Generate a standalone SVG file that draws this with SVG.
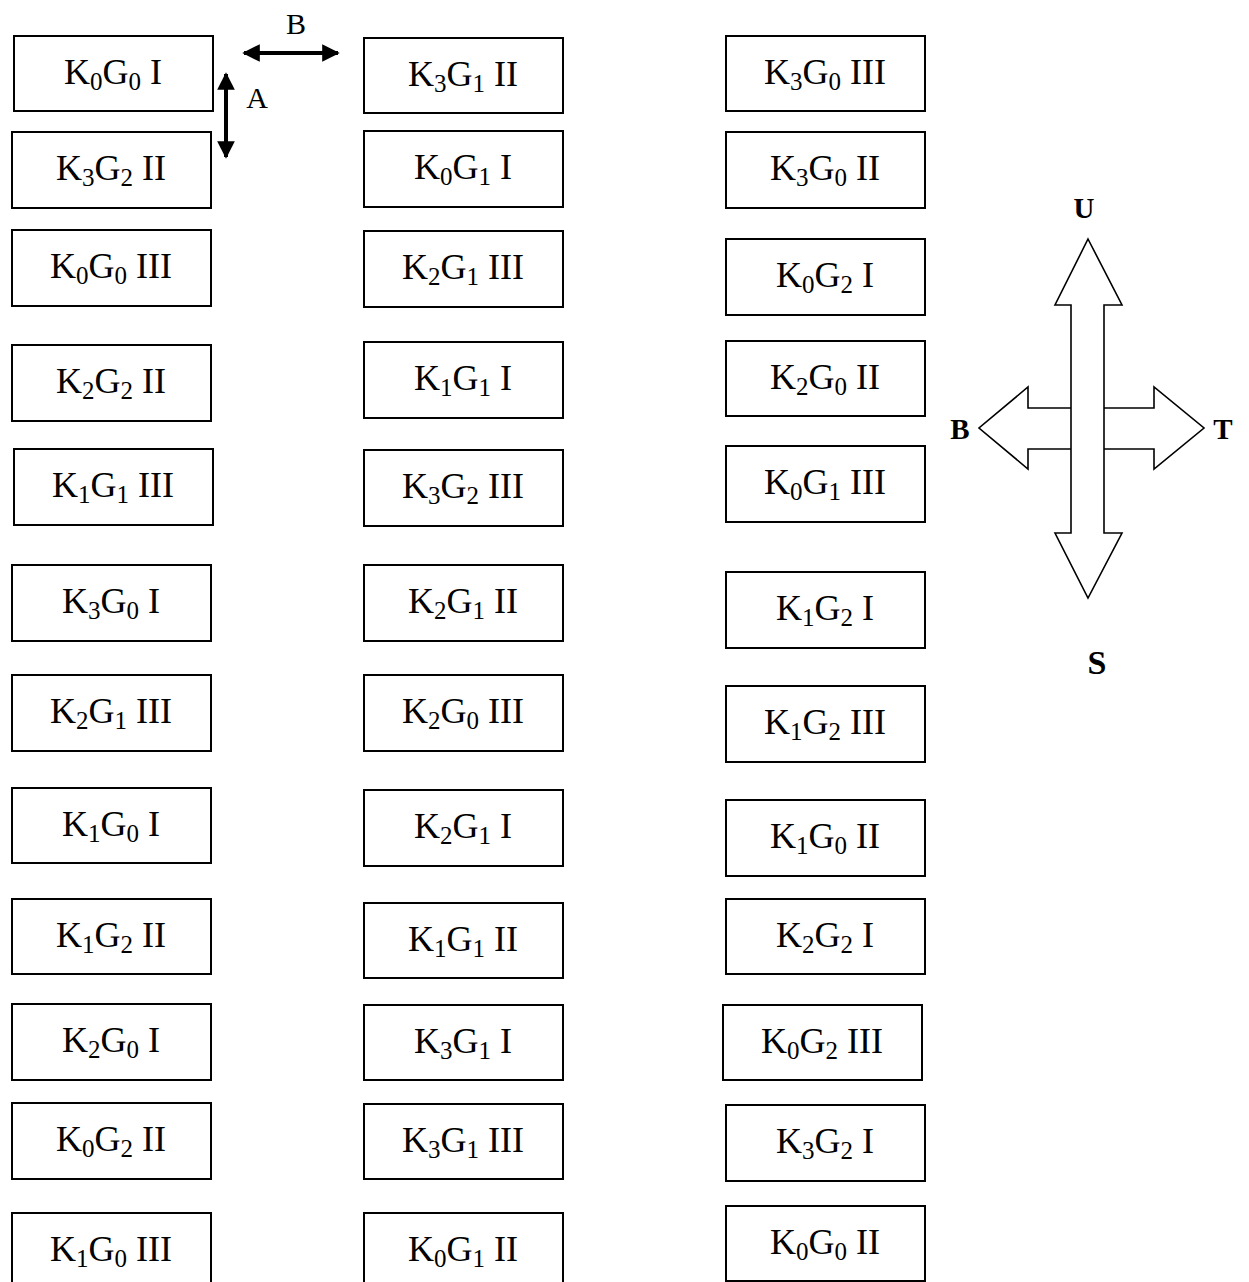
<svg xmlns="http://www.w3.org/2000/svg" width="1249" height="1282" viewBox="0 0 1249 1282">
<style>
.box{fill:#fff;stroke:#000;stroke-width:2}
.t{font-family:"Liberation Serif","Times New Roman",serif;font-size:36px;fill:#000;text-anchor:middle}
.s{font-size:25px}
.lbl{font-family:"Liberation Serif","Times New Roman",serif;font-size:30px;fill:#000;text-anchor:middle}
.cl{font-family:"Liberation Serif","Times New Roman",serif;font-weight:bold;font-size:29px;fill:#000;text-anchor:middle}
.ca{fill:#fff;stroke:#000;stroke-width:1.6;stroke-linejoin:miter}
</style>
<defs>
<marker id="ah" viewBox="0 0 10 10" refX="9" refY="5" markerWidth="4.8" markerHeight="4.4" orient="auto-start-reverse" markerUnits="strokeWidth">
<path d="M0,0 L10,5 L0,10 z" fill="#000"/>
</marker>
</defs>
<rect width="1249" height="1282" fill="#fff"/>

<g id="col1">
<g id="n_K0G0_I"><rect class="box" x="14" y="36" width="199" height="75"/><text class="t" x="113" y="84">K<tspan class="s" dy="6">0</tspan><tspan dy="-6">G</tspan><tspan class="s" dy="6">0</tspan><tspan dy="-6"> I</tspan></text></g>
<g id="n_K3G2_II"><rect class="box" x="12" y="132" width="199" height="76"/><text class="t" x="111" y="180">K<tspan class="s" dy="6">3</tspan><tspan dy="-6">G</tspan><tspan class="s" dy="6">2</tspan><tspan dy="-6"> II</tspan></text></g>
<g id="n_K0G0_III"><rect class="box" x="12" y="230" width="199" height="76"/><text class="t" x="111" y="278">K<tspan class="s" dy="6">0</tspan><tspan dy="-6">G</tspan><tspan class="s" dy="6">0</tspan><tspan dy="-6"> III</tspan></text></g>
<g id="n_K2G2_II"><rect class="box" x="12" y="345" width="199" height="76"/><text class="t" x="111" y="393">K<tspan class="s" dy="6">2</tspan><tspan dy="-6">G</tspan><tspan class="s" dy="6">2</tspan><tspan dy="-6"> II</tspan></text></g>
<g id="n_K1G1_III"><rect class="box" x="14" y="449" width="199" height="76"/><text class="t" x="113" y="497">K<tspan class="s" dy="6">1</tspan><tspan dy="-6">G</tspan><tspan class="s" dy="6">1</tspan><tspan dy="-6"> III</tspan></text></g>
<g id="n_K3G0_I"><rect class="box" x="12" y="565" width="199" height="76"/><text class="t" x="111" y="613">K<tspan class="s" dy="6">3</tspan><tspan dy="-6">G</tspan><tspan class="s" dy="6">0</tspan><tspan dy="-6"> I</tspan></text></g>
<g id="n_K2G1_III_a"><rect class="box" x="12" y="675" width="199" height="76"/><text class="t" x="111" y="723">K<tspan class="s" dy="6">2</tspan><tspan dy="-6">G</tspan><tspan class="s" dy="6">1</tspan><tspan dy="-6"> III</tspan></text></g>
<g id="n_K1G0_I"><rect class="box" x="12" y="788" width="199" height="75"/><text class="t" x="111" y="836">K<tspan class="s" dy="6">1</tspan><tspan dy="-6">G</tspan><tspan class="s" dy="6">0</tspan><tspan dy="-6"> I</tspan></text></g>
<g id="n_K1G2_II"><rect class="box" x="12" y="899" width="199" height="75"/><text class="t" x="111" y="947">K<tspan class="s" dy="6">1</tspan><tspan dy="-6">G</tspan><tspan class="s" dy="6">2</tspan><tspan dy="-6"> II</tspan></text></g>
<g id="n_K2G0_I"><rect class="box" x="12" y="1004" width="199" height="76"/><text class="t" x="111" y="1052">K<tspan class="s" dy="6">2</tspan><tspan dy="-6">G</tspan><tspan class="s" dy="6">0</tspan><tspan dy="-6"> I</tspan></text></g>
<g id="n_K0G2_II"><rect class="box" x="12" y="1103" width="199" height="76"/><text class="t" x="111" y="1151">K<tspan class="s" dy="6">0</tspan><tspan dy="-6">G</tspan><tspan class="s" dy="6">2</tspan><tspan dy="-6"> II</tspan></text></g>
<g id="n_K1G0_III"><rect class="box" x="12" y="1213" width="199" height="76"/><text class="t" x="111" y="1261">K<tspan class="s" dy="6">1</tspan><tspan dy="-6">G</tspan><tspan class="s" dy="6">0</tspan><tspan dy="-6"> III</tspan></text></g>
</g>

<g id="col2">
<g id="n_K3G1_II"><rect class="box" x="364" y="38" width="199" height="75"/><text class="t" x="463" y="86">K<tspan class="s" dy="6">3</tspan><tspan dy="-6">G</tspan><tspan class="s" dy="6">1</tspan><tspan dy="-6"> II</tspan></text></g>
<g id="n_K0G1_I"><rect class="box" x="364" y="131" width="199" height="76"/><text class="t" x="463" y="179">K<tspan class="s" dy="6">0</tspan><tspan dy="-6">G</tspan><tspan class="s" dy="6">1</tspan><tspan dy="-6"> I</tspan></text></g>
<g id="n_K2G1_III_b"><rect class="box" x="364" y="231" width="199" height="76"/><text class="t" x="463" y="279">K<tspan class="s" dy="6">2</tspan><tspan dy="-6">G</tspan><tspan class="s" dy="6">1</tspan><tspan dy="-6"> III</tspan></text></g>
<g id="n_K1G1_I"><rect class="box" x="364" y="342" width="199" height="76"/><text class="t" x="463" y="390">K<tspan class="s" dy="6">1</tspan><tspan dy="-6">G</tspan><tspan class="s" dy="6">1</tspan><tspan dy="-6"> I</tspan></text></g>
<g id="n_K3G2_III"><rect class="box" x="364" y="450" width="199" height="76"/><text class="t" x="463" y="498">K<tspan class="s" dy="6">3</tspan><tspan dy="-6">G</tspan><tspan class="s" dy="6">2</tspan><tspan dy="-6"> III</tspan></text></g>
<g id="n_K2G1_II"><rect class="box" x="364" y="565" width="199" height="76"/><text class="t" x="463" y="613">K<tspan class="s" dy="6">2</tspan><tspan dy="-6">G</tspan><tspan class="s" dy="6">1</tspan><tspan dy="-6"> II</tspan></text></g>
<g id="n_K2G0_III"><rect class="box" x="364" y="675" width="199" height="76"/><text class="t" x="463" y="723">K<tspan class="s" dy="6">2</tspan><tspan dy="-6">G</tspan><tspan class="s" dy="6">0</tspan><tspan dy="-6"> III</tspan></text></g>
<g id="n_K2G1_I"><rect class="box" x="364" y="790" width="199" height="76"/><text class="t" x="463" y="838">K<tspan class="s" dy="6">2</tspan><tspan dy="-6">G</tspan><tspan class="s" dy="6">1</tspan><tspan dy="-6"> I</tspan></text></g>
<g id="n_K1G1_II"><rect class="box" x="364" y="903" width="199" height="75"/><text class="t" x="463" y="951">K<tspan class="s" dy="6">1</tspan><tspan dy="-6">G</tspan><tspan class="s" dy="6">1</tspan><tspan dy="-6"> II</tspan></text></g>
<g id="n_K3G1_I"><rect class="box" x="364" y="1005" width="199" height="75"/><text class="t" x="463" y="1053">K<tspan class="s" dy="6">3</tspan><tspan dy="-6">G</tspan><tspan class="s" dy="6">1</tspan><tspan dy="-6"> I</tspan></text></g>
<g id="n_K3G1_III"><rect class="box" x="364" y="1104" width="199" height="75"/><text class="t" x="463" y="1152">K<tspan class="s" dy="6">3</tspan><tspan dy="-6">G</tspan><tspan class="s" dy="6">1</tspan><tspan dy="-6"> III</tspan></text></g>
<g id="n_K0G1_II"><rect class="box" x="364" y="1213" width="199" height="76"/><text class="t" x="463" y="1261">K<tspan class="s" dy="6">0</tspan><tspan dy="-6">G</tspan><tspan class="s" dy="6">1</tspan><tspan dy="-6"> II</tspan></text></g>
</g>

<g id="col3">
<g id="n_K3G0_III"><rect class="box" x="726" y="36" width="199" height="75"/><text class="t" x="825" y="84">K<tspan class="s" dy="6">3</tspan><tspan dy="-6">G</tspan><tspan class="s" dy="6">0</tspan><tspan dy="-6"> III</tspan></text></g>
<g id="n_K3G0_II"><rect class="box" x="726" y="132" width="199" height="76"/><text class="t" x="825" y="180">K<tspan class="s" dy="6">3</tspan><tspan dy="-6">G</tspan><tspan class="s" dy="6">0</tspan><tspan dy="-6"> II</tspan></text></g>
<g id="n_K0G2_I"><rect class="box" x="726" y="239" width="199" height="76"/><text class="t" x="825" y="287">K<tspan class="s" dy="6">0</tspan><tspan dy="-6">G</tspan><tspan class="s" dy="6">2</tspan><tspan dy="-6"> I</tspan></text></g>
<g id="n_K2G0_II"><rect class="box" x="726" y="341" width="199" height="75"/><text class="t" x="825" y="389">K<tspan class="s" dy="6">2</tspan><tspan dy="-6">G</tspan><tspan class="s" dy="6">0</tspan><tspan dy="-6"> II</tspan></text></g>
<g id="n_K0G1_III"><rect class="box" x="726" y="446" width="199" height="76"/><text class="t" x="825" y="494">K<tspan class="s" dy="6">0</tspan><tspan dy="-6">G</tspan><tspan class="s" dy="6">1</tspan><tspan dy="-6"> III</tspan></text></g>
<g id="n_K1G2_I"><rect class="box" x="726" y="572" width="199" height="76"/><text class="t" x="825" y="620">K<tspan class="s" dy="6">1</tspan><tspan dy="-6">G</tspan><tspan class="s" dy="6">2</tspan><tspan dy="-6"> I</tspan></text></g>
<g id="n_K1G2_III"><rect class="box" x="726" y="686" width="199" height="76"/><text class="t" x="825" y="734">K<tspan class="s" dy="6">1</tspan><tspan dy="-6">G</tspan><tspan class="s" dy="6">2</tspan><tspan dy="-6"> III</tspan></text></g>
<g id="n_K1G0_II"><rect class="box" x="726" y="800" width="199" height="76"/><text class="t" x="825" y="848">K<tspan class="s" dy="6">1</tspan><tspan dy="-6">G</tspan><tspan class="s" dy="6">0</tspan><tspan dy="-6"> II</tspan></text></g>
<g id="n_K2G2_I"><rect class="box" x="726" y="899" width="199" height="75"/><text class="t" x="825" y="947">K<tspan class="s" dy="6">2</tspan><tspan dy="-6">G</tspan><tspan class="s" dy="6">2</tspan><tspan dy="-6"> I</tspan></text></g>
<g id="n_K0G2_III"><rect class="box" x="723" y="1005" width="199" height="75"/><text class="t" x="822" y="1053">K<tspan class="s" dy="6">0</tspan><tspan dy="-6">G</tspan><tspan class="s" dy="6">2</tspan><tspan dy="-6"> III</tspan></text></g>
<g id="n_K3G2_I"><rect class="box" x="726" y="1105" width="199" height="76"/><text class="t" x="825" y="1153">K<tspan class="s" dy="6">3</tspan><tspan dy="-6">G</tspan><tspan class="s" dy="6">2</tspan><tspan dy="-6"> I</tspan></text></g>
<g id="n_K0G0_II"><rect class="box" x="726" y="1206" width="199" height="75"/><text class="t" x="825" y="1254">K<tspan class="s" dy="6">0</tspan><tspan dy="-6">G</tspan><tspan class="s" dy="6">0</tspan><tspan dy="-6"> II</tspan></text></g>
</g>

<g id="connectors">
<line x1="244" y1="53" x2="338" y2="53" stroke="#000" stroke-width="4" marker-start="url(#ah)" marker-end="url(#ah)"/>
<text class="lbl" x="296" y="34">B</text>
<line x1="226" y1="74" x2="226" y2="157" stroke="#000" stroke-width="4" marker-start="url(#ah)" marker-end="url(#ah)"/>
<text class="lbl" x="257" y="108">A</text>
</g>

<g id="compass">
<polyline class="ca" points="1071,408 1028,408 1028,387 979,428 1028,469 1028,449 1071,449"/>
<polyline class="ca" points="1104,408 1154,408 1154,387 1204,428 1154,469 1154,449 1104,449"/>
<polygon class="ca" points="1088,239 1122,305 1104,305 1104,533 1122,533 1088,598 1055,533 1071,533 1071,305 1055,305"/>
<text class="cl" x="1084" y="218">U</text>
<text class="cl" x="960" y="439">B</text>
<text class="cl" x="1223" y="439">T</text>
<text class="cl" x="1097" y="674" style="font-size:34px">S</text>
</g>
</svg>
